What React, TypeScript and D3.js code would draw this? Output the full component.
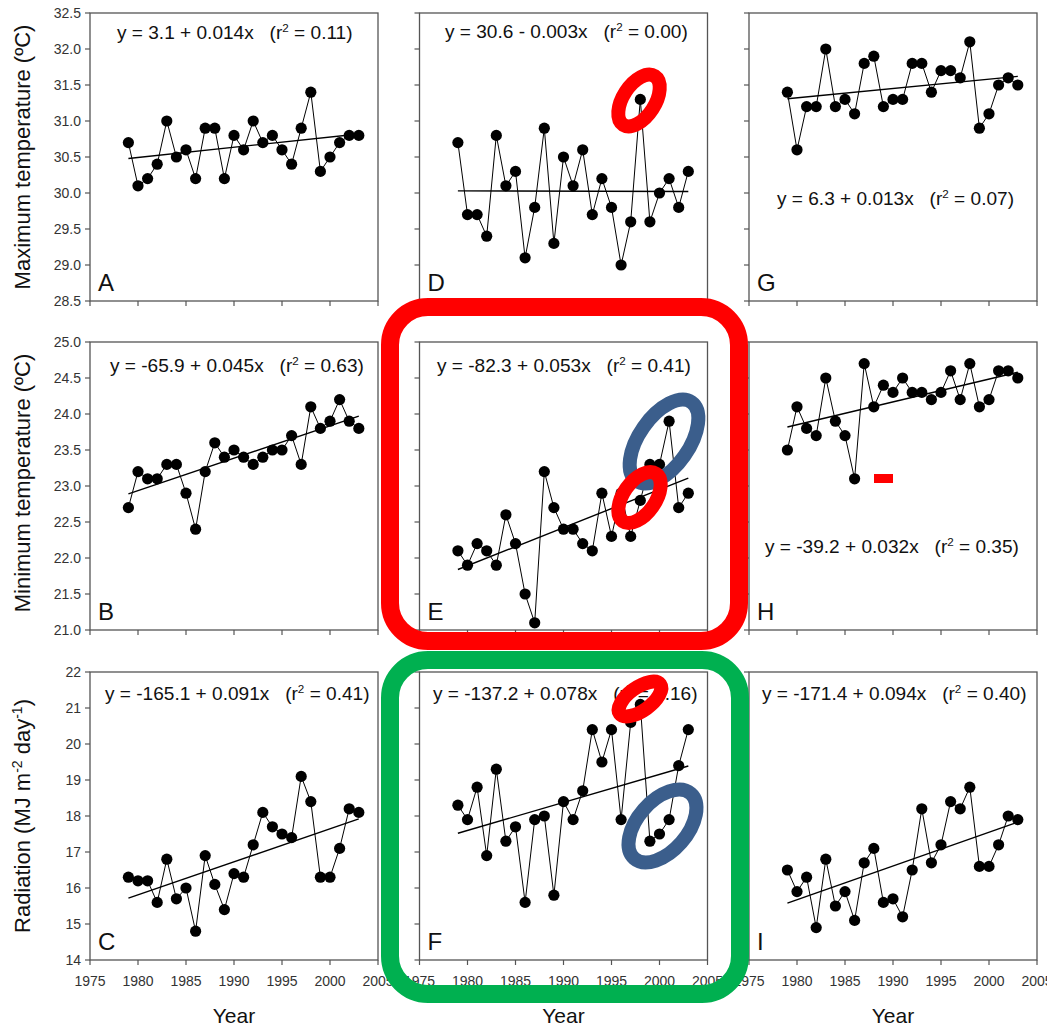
import React from 'react';
import * as d3 from 'd3';

const FONT = '"Liberation Sans", Arial, Helvetica, sans-serif';

// ---------- data ----------
const years = [1979, 1980, 1981, 1982, 1983, 1984, 1985, 1986, 1987, 1988, 1989, 1990, 1991, 1992, 1993, 1994, 1995, 1996, 1997, 1998, 1999, 2000, 2001, 2002, 2003];

const maxTempA = [30.7, 30.1, 30.2, 30.4, 31.0, 30.5, 30.6, 30.2, 30.9, 30.9, 30.2, 30.8, 30.6, 31.0, 30.7, 30.8, 30.6, 30.4, 30.9, 31.4, 30.3, 30.5, 30.7, 30.8, 30.8];
const maxTempD = [30.7, 29.7, 29.7, 29.4, 30.8, 30.1, 30.3, 29.1, 29.8, 30.9, 29.3, 30.5, 30.1, 30.6, 29.7, 30.2, 29.8, 29.0, 29.6, 31.3, 29.6, 30.0, 30.2, 29.8, 30.3];
const maxTempG = [31.4, 30.6, 31.2, 31.2, 32.0, 31.2, 31.3, 31.1, 31.8, 31.9, 31.2, 31.3, 31.3, 31.8, 31.8, 31.4, 31.7, 31.7, 31.6, 32.1, 30.9, 31.1, 31.5, 31.6, 31.5];
const minTempB = [22.7, 23.2, 23.1, 23.1, 23.3, 23.3, 22.9, 22.4, 23.2, 23.6, 23.4, 23.5, 23.4, 23.3, 23.4, 23.5, 23.5, 23.7, 23.3, 24.1, 23.8, 23.9, 24.2, 23.9, 23.8];
const minTempE = [22.1, 21.9, 22.2, 22.1, 21.9, 22.6, 22.2, 21.5, 21.1, 23.2, 22.7, 22.4, 22.4, 22.2, 22.1, 22.9, 22.3, 22.9, 22.3, 22.8, 23.3, 23.3, 23.9, 22.7, 22.9];
const minTempH = [23.5, 24.1, 23.8, 23.7, 24.5, 23.9, 23.7, 23.1, 24.7, 24.1, 24.4, 24.3, 24.5, 24.3, 24.3, 24.2, 24.3, 24.6, 24.2, 24.7, 24.1, 24.2, 24.6, 24.6, 24.5];
const radC = [16.3, 16.2, 16.2, 15.6, 16.8, 15.7, 16.0, 14.8, 16.9, 16.1, 15.4, 16.4, 16.3, 17.2, 18.1, 17.7, 17.5, 17.4, 19.1, 18.4, 16.3, 16.3, 17.1, 18.2, 18.1];
const radF = [18.3, 17.9, 18.8, 16.9, 19.3, 17.3, 17.7, 15.6, 17.9, 18.0, 15.8, 18.4, 17.9, 18.7, 20.4, 19.5, 20.4, 17.9, 20.6, 21.1, 17.3, 17.5, 17.9, 19.4, 20.4];
const radI = [16.5, 15.9, 16.3, 14.9, 16.8, 15.5, 15.9, 15.1, 16.7, 17.1, 15.6, 15.7, 15.2, 16.5, 18.2, 16.7, 17.2, 18.4, 18.2, 18.8, 16.6, 16.6, 17.2, 18.0, 17.9];

// trend line values at 1979 and 2003
const trendA = [30.48, 30.82];
const trendD = [30.03, 30.02];
const trendG = [31.31, 31.62];
const trendB = [22.89, 23.97];
const trendE = [21.84, 23.11];
const trendH = [23.82, 24.58];
const trendC = [15.72, 17.92];
const trendF = [17.52, 19.39];
const trendI = [15.58, 17.83];

const equations = [
  'y = 3.1 + 0.014x', 'y = -65.9 + 0.045x', 'y = -165.1 + 0.091x',
  'y = 30.6 - 0.003x', 'y = -82.3 + 0.053x', 'y = -137.2 + 0.078x',
  'y = 6.3 + 0.013x', 'y = -39.2 + 0.032x', 'y = -171.4 + 0.094x',
];
const r2Values = ['0.11', '0.63', '0.41', '0.00', '0.41', '0.16', '0.07', '0.35', '0.40'];
const panelLetters = ['A', 'B', 'C', 'D', 'E', 'F', 'G', 'H', 'I'];

const xTickValues = [1975, 1980, 1985, 1990, 1995, 2000, 2005];
const yTicksMax = [28.5, 29.0, 29.5, 30.0, 30.5, 31.0, 31.5, 32.0, 32.5];
const yTicksMin = [21.0, 21.5, 22.0, 22.5, 23.0, 23.5, 24.0, 24.5, 25.0];
const yTicksRad = [14, 15, 16, 17, 18, 19, 20, 21, 22];

// ---------- layout ----------
const colX = [90, 419.5, 749];
const rowY = [13, 342, 672];
const PW = 288;
const PH = 288;

const rows = [
  { domain: [28.5, 32.5], ticks: yTicksMax, fmt: d3.format('.1f') },
  { domain: [21, 25], ticks: yTicksMin, fmt: d3.format('.1f') },
  { domain: [14, 22], ticks: yTicksRad, fmt: d3.format('d') },
];

// panels listed column by column: A B C / D E F / G H I
const panels = [
  { col: 0, row: 0, values: maxTempA, trend: trendA, eqX: 117, eqY: 38.5 },
  { col: 0, row: 1, values: minTempB, trend: trendB, eqX: 110, eqY: 372 },
  { col: 0, row: 2, values: radC, trend: trendC, eqX: 105, eqY: 700 },
  { col: 1, row: 0, values: maxTempD, trend: trendD, eqX: 445, eqY: 38 },
  { col: 1, row: 1, values: minTempE, trend: trendE, eqX: 437, eqY: 372 },
  { col: 1, row: 2, values: radF, trend: trendF, eqX: 433, eqY: 700 },
  { col: 2, row: 0, values: maxTempG, trend: trendG, eqX: 777, eqY: 205 },
  { col: 2, row: 1, values: minTempH, trend: trendH, eqX: 765, eqY: 553 },
  { col: 2, row: 2, values: radI, trend: trendI, eqX: 762, eqY: 700 },
];

const AXIS = '#555';
const LABEL = '#333';

function Panel({ p, idx }: { p: any; idx: number }) {
  const x0 = colX[p.col];
  const y0 = rowY[p.row];
  const rowCfg = rows[p.row];
  const x = d3.scaleLinear().domain([1975, 2005]).range([x0, x0 + PW]);
  const y = d3.scaleLinear().domain(rowCfg.domain).range([y0 + PH, y0]);
  const line = d3.line<number>().x((_, i) => x(years[i])).y((d) => y(d));
  const trendYears = [years[0], years[years.length - 1]];
  const trendLine = d3.line<number>().x((_, i) => x(trendYears[i])).y((d) => y(d));

  return (
    <g>
      <rect x={x0} y={y0} width={PW} height={PH} fill="none" stroke={AXIS} strokeWidth={1.3} />
      {rowCfg.ticks.map((t: number) => (
        <line key={'yt' + t} x1={x0 - 5} x2={x0} y1={y(t)} y2={y(t)} stroke={AXIS} strokeWidth={1.2} />
      ))}
      {xTickValues.map((t) => (
        <line key={'xt' + t} x1={x(t)} x2={x(t)} y1={y0 + PH} y2={y0 + PH + 5} stroke={AXIS} strokeWidth={1.2} />
      ))}
      {p.col === 0 &&
        rowCfg.ticks.map((t: number) => (
          <text key={'yl' + t} x={x0 - 9} y={y(t)} dy="0.35em" textAnchor="end" fontSize={14} fill={LABEL}>
            {rowCfg.fmt(t)}
          </text>
        ))}
      {p.row === 2 &&
        xTickValues.map((t) => (
          <text key={'xl' + t} x={x(t)} y={y0 + PH + 26} textAnchor="middle" fontSize={14} fill={LABEL}>
            {t}
          </text>
        ))}
      <path d={line(p.values) || ''} fill="none" stroke="#000" strokeWidth={1} />
      <path d={trendLine(p.trend) || ''} fill="none" stroke="#000" strokeWidth={1.4} />
      {p.values.map((v: number, i: number) => (
        <circle key={'c' + i} cx={x(years[i])} cy={y(v)} r={5.6} fill="#000" />
      ))}
      <g transform={`translate(${p.eqX},${p.eqY}) scale(1.06,1)`}>
        <text x={0} y={0} fontSize={18} fill="#111" style={{ whiteSpace: 'pre' }} xmlSpace="preserve">
          {equations[idx] + '   (r'}
          <tspan dy={-7} fontSize={11}>2</tspan>
          <tspan dy={7}>{' = ' + r2Values[idx] + ')'}</tspan>
        </text>
      </g>
      <text x={x0 + 8} y={y0 + PH - 10} fontSize={24} fill="#111">
        {panelLetters[idx]}
      </text>
    </g>
  );
}

// annotation overlays (drawn on top)
const ellipses = [
  { cx: 639, cy: 100.5, rx: 29, ry: 16, rot: -57, color: '#FF0000' },
  { cx: 664, cy: 441.5, rx: 48, ry: 25, rot: -55, color: '#3B5E8C' },
  { cx: 639.5, cy: 497.5, rx: 29, ry: 16, rot: -55, color: '#FF0000' },
  { cx: 662.5, cy: 826, rx: 43, ry: 25, rot: -49, color: '#3B5E8C' },
  { cx: 640, cy: 699, rx: 25, ry: 11.5, rot: -36, color: '#FF0000' },
];

export default function App() {
  const titleX = 30;
  return (
    <svg
      width={1047}
      height={1028}
      style={{ position: 'absolute', left: 0, top: 0, background: '#fff' }}
      fontFamily={FONT}
    >
      <rect x={0} y={0} width={1047} height={1028} fill="#fff" />
      {panels.map((p, i) => (
        <Panel key={i} p={p} idx={i} />
      ))}

      {/* y-axis titles */}
      <text transform={`translate(${titleX},${rowY[0] + PH / 2}) rotate(-90)`} textAnchor="middle" fontSize={22} fill="#111">
        Maximum temperature (ºC)
      </text>
      <text transform={`translate(${titleX},${rowY[1] + PH / 2 - 3}) rotate(-90)`} textAnchor="middle" fontSize={22} fill="#111">
        Minimum temperature (ºC)
      </text>
      <text transform={`translate(${titleX},${rowY[2] + PH / 2}) rotate(-90)`} textAnchor="middle" fontSize={22} fill="#111">
        Radiation (MJ m<tspan dy={-8} fontSize={14}>-2</tspan>
        <tspan dy={8}> day</tspan>
        <tspan dy={-8} fontSize={14}>-1</tspan>
        <tspan dy={8}>)</tspan>
      </text>

      {/* x-axis titles */}
      {colX.map((cx, i) => (
        <text key={'yr' + i} x={cx + PW / 2} y={1023} textAnchor="middle" fontSize={21} fill="#111">
          Year
        </text>
      ))}

      {/* annotations */}
      <rect x={390} y={307} width={349} height={334} rx={38} ry={38} fill="none" stroke="#FF0000" strokeWidth={18} />
      <rect x={390} y={660} width={350} height={334} rx={38} ry={38} fill="none" stroke="#00B050" strokeWidth={18} />
      {ellipses.map((e, i) => (
        <ellipse
          key={'el' + i}
          cx={0}
          cy={0}
          rx={e.rx}
          ry={e.ry}
          transform={`translate(${e.cx},${e.cy}) rotate(${e.rot})`}
          fill="none"
          stroke={e.color}
          strokeWidth={14}
        />
      ))}
      <rect x={874} y={474} width={19} height={9} fill="#FF0000" />
    </svg>
  );
}
